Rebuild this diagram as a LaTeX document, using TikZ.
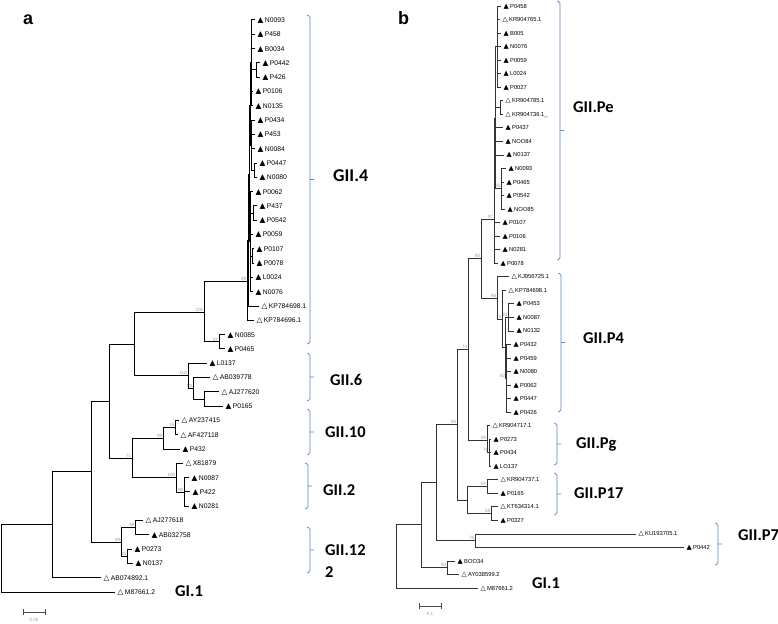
\documentclass[tikz,border=0pt]{standalone}
\usepackage{fontspec}
\setmainfont{Liberation Sans}
\newfontfamily\symf{DejaVu Sans}
\newfontfamily\grpf{Carlito}
\definecolor{grpblue}{RGB}{91,134,201}
\definecolor{bsgray}{RGB}{155,155,155}
\tikzset{
  leaf/.style={anchor=west, inner xsep=2.5pt, inner ysep=0pt, text height=4.9pt, text depth=0pt, font=\fontsize{6.8}{8}\selectfont},
  leafb/.style={leaf, text height=4.2pt, font=\fontsize{5.8}{7}\selectfont},
  br/.style={line width=1pt},
  brb/.style={line width=0.65pt, black!80},
  bs/.style={font=\fontsize{4.6}{5}\selectfont, text=bsgray, inner sep=0.5pt},
  bsl/.style={label={[bs]above left:#1}},
  grp/.style={grpblue, line width=0.7pt, rounded corners=1.5pt},
  gname/.style={anchor=base west, inner sep=0pt, font=\grpf\bfseries\fontsize{16.5}{18}\selectfont},
  panel/.style={anchor=base west, inner sep=0pt, font=\bfseries\fontsize{18}{20}\selectfont},
}
\begin{document}
\begin{tikzpicture}[x=1pt,y=-1pt]
\useasboundingbox (0,0) rectangle (778,623);

% ---- panel a
\node[panel] (pa) at (23,25) {a};
\coordinate (r) at (1,558);
\coordinate (A1) at (52,524);
\coordinate (A2) at (91,471);
\coordinate (A3) at (109,401);
\coordinate[bsl=99] (g12) at (121,542);
\coordinate[bsl=99] (g12a) at (135,527.6);
\coordinate[bsl=85] (g12b) at (127,556.3);
\coordinate[bsl=71] (g10) at (132,458);
\coordinate[bsl=99] (g10a) at (163,438);
\coordinate[bsl=76] (g10b) at (175,427.5);
\coordinate[bsl=100] (g2) at (176,477.7);
\coordinate[bsl=89] (g2b) at (184,492);
\coordinate (g4c) at (134,344);
\coordinate[bsl=100] (g4b) at (204,312);
\coordinate[bsl=97] (g4d) at (219,341.8);
\coordinate[bsl=100] (g6) at (188,375.6);
\coordinate[bsl=82] (g6a) at (193,388);
\coordinate (g6b) at (204,399);
\coordinate[bsl=99] (g4) at (247,281);
\coordinate (s1) at (248,240);
\coordinate (s2) at (249,174);
\coordinate (s3) at (250,106);
\coordinate (s3a) at (251,63);
\coordinate (p34) at (256,70);
\coordinate (s3b) at (251,145);
\coordinate (p10) at (254,170);
\coordinate (s4) at (250,241.6);
\coordinate (p13) at (253,213);
\coordinate (p16) at (252,256);

\foreach \p/\c in {r/A1, A1/A2, A2/A3, A2/g12, g12/g12a, g12/g12b, A3/g4c, A3/g10,
    g10/g10a, g10/g2, g10a/g10b, g2/g2b, g4c/g4b, g4c/g6, g4b/g4, g4b/g4d,
    g6/g6a, g6a/g6b, g4/s1, s1/s2, s2/s3, s2/s4, s3/s3a, s3/s3b, s3a/p34,
    s3b/p10, s4/p13, s4/p16}
  \draw[br] (\p) |- (\c);

\foreach \x/\m/\n/\p [count=\i from 0] in {
    255/▲/N0093/s3a, 255/▲/P458/s3a, 255/▲/B0034/s3a, 260/▲/P0442/p34,
    260/▲/P426/p34, 253/▲/P0106/s3a, 253/▲/N0135/s3a, 255/▲/P0434/s3b,
    255/▲/P453/s3b, 255/▲/N0084/s3b, 257/▲/P0447/p10, 257/▲/N0080/p10,
    253/▲/P0062/s4, 257/▲/P437/p13, 257/▲/P0542/p13, 253/▲/P0059/s4,
    254/▲/P0107/p16, 254/▲/P0078/p16, 253/▲/L0024/s4, 253/▲/N0076/s4,
    259/△/KP784698.1/s1, 254/△/KP784696.1/g4, 225/▲/N0085/g4d, 225/▲/P0465/g4d,
    207/▲/L0137/g6, 210/△/AB039778/g6a, 219/△/AJ277620/g6b, 223/▲/P0165/g6b,
    179/△/AY237415/g10b, 178/△/AF427118/g10b, 180/▲/P432/g10a, 183/△/X81879/g2,
    189/▲/N0087/g2b, 190/▲/P422/g2b, 189/▲/N0281/g2b, 143/△/AJ277618/g12a,
    149/▲/AB032758/g12a, 132/▲/P0273/g12b, 133/▲/N0137/g12b,
    101/△/AB074892.1/A1, 115/△/M87661.2/r}{
  \node[leaf] (a\i) at (\x,{20+14.3*\i}) {{\symf\fontsize{7.6}{8}\selectfont\m}\hspace{1.3pt}\n};
  \draw[br] (\p) |- (a\i.west);
}

\foreach \x/\t/\b in {310/15/344, 310/353/401, 310/409/455, 308/463/509, 310/527/573}
  \draw[grp] ({\x-3},\t) -- (\x,{\t+1}) -- (\x,{\b-1}) -- ({\x-3},\b)
    (\x,{(\t+\b)/2}) -- ({\x+4},{(\t+\b)/2});

\node[gname, font=\grpf\bfseries\fontsize{18}{20}\selectfont] (gii4) at (333,181) {GII.4};
\node[gname] (gii6) at (330,385) {GII.6};
\node[gname] (gii10) at (325,437) {GII.10};
\node[gname] (gii2) at (323,495) {GII.2};
\node[gname] (gii12) at (325,555) {GII.12};
\node[gname] (gii12b) at (325,577) {2};
\node[gname] (gi1a) at (175,596) {GI.1};

\draw[|-|, line width=0.5pt, black!70] (23,612) -- (45,612);
\node[bs] (sca) at (34,620) {0.05};

% ---- panel b
\node[panel] (pb) at (398,25) {b};
\coordinate (rb) at (396,556);
\coordinate (Ab) at (421,524);
\coordinate[bsl=84] (n84) at (447,567.7);
\coordinate (Bb) at (436,482);
\coordinate[bsl=76] (n76) at (475,540.6);
\coordinate[bsl=80] (Db) at (457,424.5);
\coordinate (p17) at (467,500);
\coordinate[bsl=93] (p17a) at (487,486.5);
\coordinate[bsl=58] (p17b) at (491,513.5);
\coordinate[bsl=74] (Eb) at (468,349);
\coordinate[bsl=95] (pg) at (487,440);
\coordinate[bsl=76] (pg2) at (489,452.7);
\coordinate[bsl=80] (Fb) at (481,258.5);
\coordinate[bsl=87] (Gb) at (494,219);
\coordinate (Pe1) at (495,118);
\coordinate (Pe2) at (497,46.6);
\coordinate (Pe3) at (500,107.5);
\coordinate[bsl=76] (Pe4) at (501,188.7);
\coordinate[bsl=86] (Hb) at (497,298);
\coordinate[bsl=74] (Hc) at (502,319);
\coordinate (Hd) at (505,347.8);
\coordinate[bsl=80] (He) at (508,317.3);
\coordinate[bsl=82] (Hf) at (506,378.2);

\foreach \p/\c in {rb/Ab, Ab/Bb, Ab/n84, Bb/Db, Bb/n76, Db/Eb, Db/p17, p17/p17a,
    p17/p17b, Eb/Fb, Eb/pg, pg/pg2, Fb/Gb, Fb/Hb, Gb/Pe1, Pe1/Pe2, Pe1/Pe3,
    Pe1/Pe4, Hb/Hc, Hc/Hd, Hd/He, Hd/Hf}
  \draw[brb] (\p) |- (\c);

\foreach \x/\m/\n/\p [count=\i from 0] in {
    501/▲/P0458/Pe2, 500/△/KR904765.1/Pe2, 501/▲/B005/Pe2, 501/▲/N0076/Pe2,
    501/▲/P0059/Pe2, 501/▲/L0024/Pe2, 501/▲/P0027/Pe2, 503/△/KR904785.1/Pe3,
    503/△/KR904736.1\_/Pe3, 503/▲/P0437/Pe1, 503/▲/NOO84/Pe1, 504/▲/N0137/Pe1,
    506/▲/N0093/Pe4, 504/▲/P0465/Pe4, 504/▲/P0542/Pe4, 505/▲/NOO85/Pe4,
    500/▲/P0107/Gb, 500/▲/P0106/Gb, 500/▲/N0281/Gb, 498/▲/P0078/Gb,
    509/△/KJ956725.1/Hb, 506/△/KP784698.1/Hc, 514/▲/P0453/He, 514/▲/N0087/He,
    514/▲/N0132/He, 511/▲/P0432/Hf, 511/▲/P0459/Hf, 511/▲/N0080/Hf,
    511/▲/P0062/Hf, 511/▲/P0447/Hf, 511/▲/P0426/Hf, 490/△/KR904717.1/pg,
    491/▲/P0273/pg2, 491/▲/P0434/pg2, 491/▲/LO137/pg2, 498/△/KR904737.1/p17a,
    498/▲/P0165/p17a, 498/△/KT634314.1/p17b, 498/▲/P0327/p17b,
    636/△/KU193705.1/n76, 684/▲/P0442/n76, 455/▲/BOO34/n84,
    459/△/AY038599.2/n84, 478/△/M87661.2/rb}{
  \node[leafb] (b\i) at (\x,{6+13.535*\i}) {{\symf\fontsize{6.8}{7}\selectfont\m}\hspace{1.2pt}\n};
  \draw[brb] (\p) |- (b\i.west);
}

\foreach \x/\t/\b in {560/1/260, 561/273/412, 557/423/465, 557/473/515, 718/523/565}
  \draw[grp] ({\x-3},\t) -- (\x,{\t+1}) -- (\x,{\b-1}) -- ({\x-3},\b)
    (\x,{(\t+\b)/2}) -- ({\x+4},{(\t+\b)/2});

\node[gname] (giipe) at (573,113) {GII.Pe};
\node[gname] (giip4) at (583,343) {GII.P4};
\node[gname] (giipg) at (576,448) {GII.Pg};
\node[gname] (giip17) at (574,498) {GII.P17};
\node[gname] (giip7) at (738,540) {GII.P7};
\node[gname] (gi1b) at (532,588) {GI.1};

\draw[|-|, line width=0.5pt, black!70] (419,606) -- (441,606);
\node[bs] (scb) at (430,614) {0.1};
\end{tikzpicture}
\end{document}
